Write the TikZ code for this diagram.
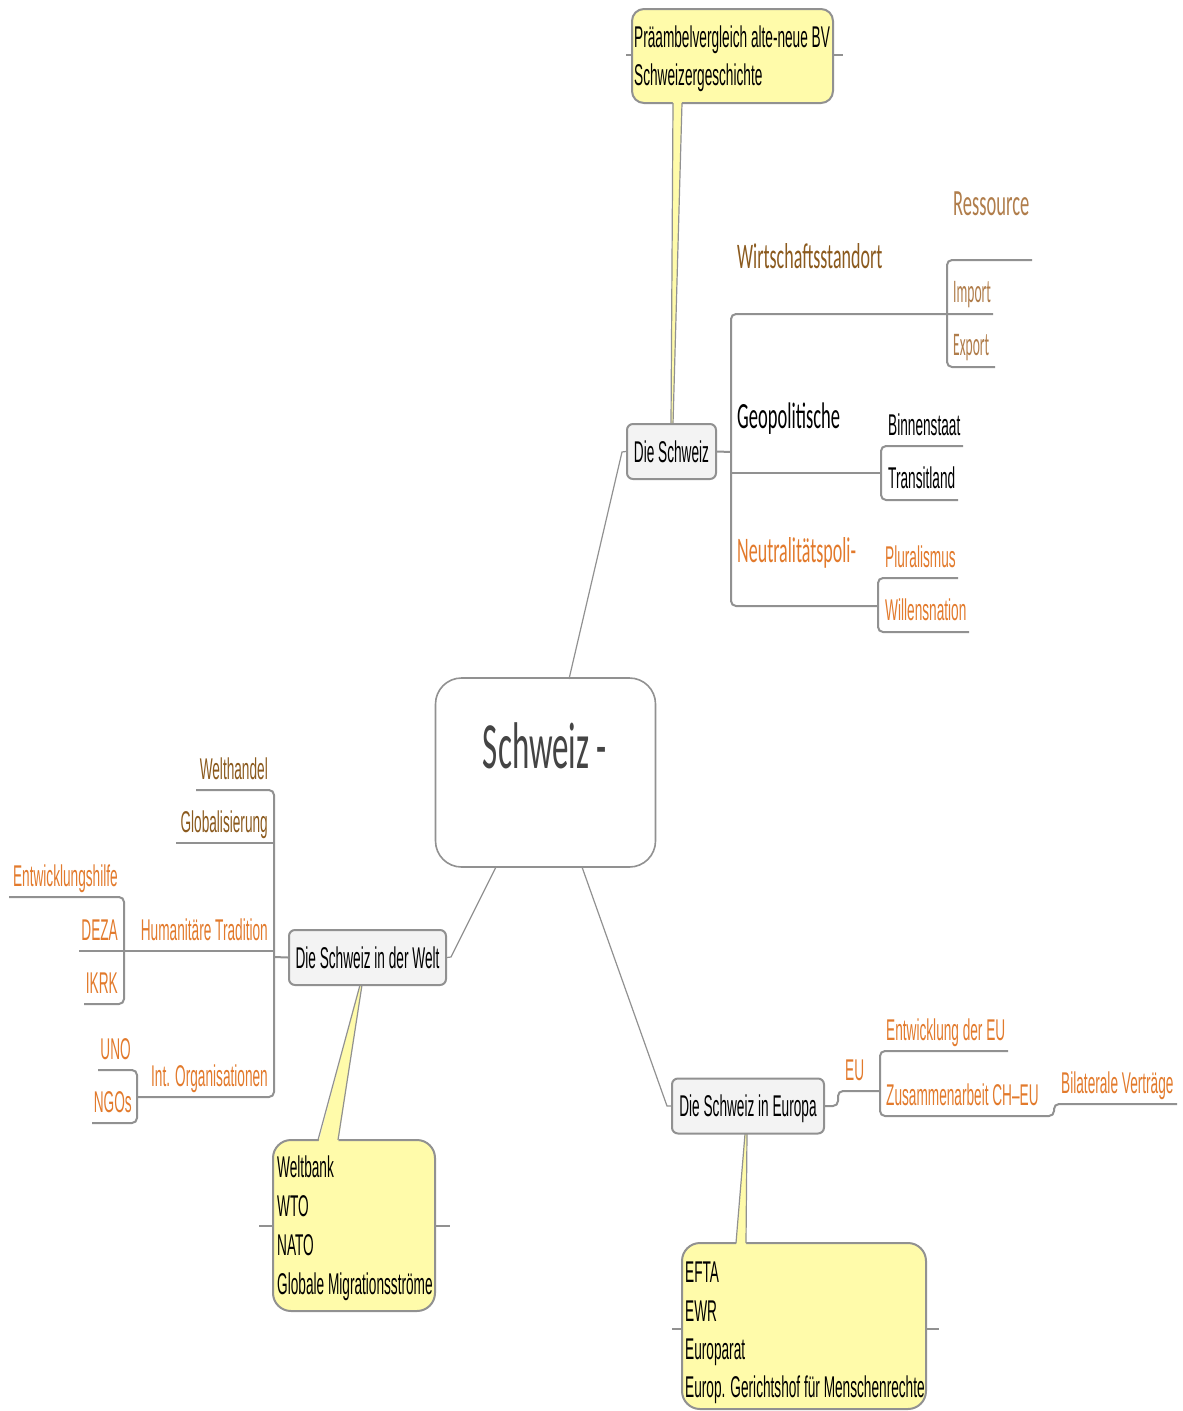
\documentclass[tikz,border=0pt]{standalone}
\usepackage{fontspec}
\setmainfont{Liberation Sans}
\newfontfamily\af[FakeStretch=0.455]{Liberation Sans}
\newfontfamily\cf[FakeStretch=0.5]{Carlito}
\newfontfamily\cfn[FakeStretch=0.41]{Carlito}
\definecolor{orng}{RGB}{226,122,44}
\definecolor{brnA}{RGB}{139,90,30}
\definecolor{brnB}{RGB}{176,125,75}
\definecolor{lgray}{RGB}{145,145,145}
\definecolor{cgray}{RGB}{68,68,68}
\definecolor{yel}{RGB}{255,251,170}
\definecolor{topicfill}{RGB}{243,243,243}
\tikzset{
  br/.style={draw=lgray, line width=2pt, rounded corners=5pt},
  conn/.style={draw=lgray, line width=1.2pt},
  lbl/.style={inner sep=0pt, font=\af\fontsize{30}{36}\selectfont},
  big/.style={inner sep=0pt, font=\cf\fontsize{37}{44}\selectfont},
  sml/.style={inner sep=0pt, font=\cfn\fontsize{33}{38}\selectfont},
  topic/.style={draw=lgray, line width=2pt, fill=topicfill, rounded corners=6pt,
    inner sep=0pt, text height=21pt, text depth=0pt, font=\af\fontsize{30}{36}\selectfont},
  callout/.style={draw=lgray, line width=2pt, fill=yel, inner sep=0pt},
  wedge/.style={fill=yel, draw=none},
  wedgeline/.style={draw=lgray, line width=1.2pt},
}
\begin{document}
\begin{tikzpicture}[x=1pt,y=-1pt]
\useasboundingbox (0,0) rectangle (1183,1411);

% ---------- callout boxes ----------
\draw[br] (626,55) -- (843,55);
\node[callout, rounded corners=12pt, minimum width=201pt, minimum height=94pt] (pb) at (732.5,56) {};
\draw[br] (259,1226) -- (450,1226);
\node[callout, rounded corners=18pt, minimum width=162pt, minimum height=171pt] (wb) at (354,1225.5) {};
\draw[br] (672,1329) -- (939,1329);
\node[callout, rounded corners=18pt, minimum width=244pt, minimum height=166pt] (ef) at (804,1326) {};

% ---------- wedges ----------
\fill[wedge] (671,424) -- (673,99) -- (682,99) -- (673,424) -- cycle;
\draw[wedgeline] (671,424) -- (673,103);
\draw[wedgeline] (673,424) -- (682,103);
\fill[wedge] (360,985) -- (318,1144) -- (338,1144) -- (362,985) -- cycle;
\draw[wedgeline] (360,985) -- (318,1140);
\draw[wedgeline] (362,985) -- (338,1140);
\fill[wedge] (745,1134) -- (736,1247) -- (746,1247) -- (747,1134) -- cycle;
\draw[wedgeline] (745,1134) -- (736,1243);
\draw[wedgeline] (747,1134) -- (746,1243);

% ---------- callout texts ----------
\node[lbl, anchor=base west] (pb1) at (634,47) {Präambelvergleich alte-neue BV};
\node[lbl, anchor=base west] (pb2) at (634,85) {Schweizergeschichte};
\node[lbl, anchor=base west] (wb1) at (277,1177) {Weltbank};
\node[lbl, anchor=base west] (wb2) at (277,1216) {WTO};
\node[lbl, anchor=base west] (wb3) at (277,1255) {NATO};
\node[lbl, anchor=base west] (wb4) at (277,1294) {Globale Migrationsströme};
\node[lbl, anchor=base west] (ef1) at (685,1282) {EFTA};
\node[lbl, anchor=base west] (ef2) at (685,1321) {EWR};
\node[lbl, anchor=base west] (ef3) at (685,1359) {Europarat};
\node[lbl, anchor=base west] (ef4) at (685,1397) {Europ. Gerichtshof für Menschenrechte};

% ---------- central ----------
\node[draw=lgray, line width=1.6pt, fill=white, rounded corners=26pt, minimum width=220pt, minimum height=189pt, inner sep=0pt] (c) at (545.5,772.5) {};
\node[inner sep=0pt, anchor=base, text=cgray, font=\cf\fontsize{66}{70}\selectfont] (ct) at (545,768) {Schweiz -};

% ---------- topic boxes ----------
\node[topic, minimum width=89pt, minimum height=55pt] (ds) at (671.5,451.5) {Die Schweiz};
\node[topic, minimum width=157pt, minimum height=55pt] (dw) at (367.5,957.5) {Die Schweiz in der Welt};
\node[topic, minimum width=152pt, minimum height=55pt] (de) at (748,1106) {Die Schweiz in Europa};

% ---------- central connectors ----------
\draw[conn] (569,679) -- (622,452) -- (ds.west);
\draw[conn] (496,867) -- (451,957) -- (dw.east);
\draw[conn] (582,867) -- (667,1106) -- (de.west);

% ---------- Die Schweiz branches ----------
\draw[br] (ds.east) -- (731,452);
\draw[br] (993,314) -- (731,314) -- (731,606) -- (878,606);
\draw[br] (731,473) -- (881,473);
\draw[br] (1032,260) -- (947,260) -- (947,367) -- (995,367);
\draw[br] (963,446) -- (881,446) -- (881,500) -- (958,500);
\draw[br] (958,578) -- (878,578) -- (878,632) -- (969,632);

\node[big, anchor=base west, text=brnB] (res) at (953,215) {Ressource};
\node[big, anchor=base west, text=brnA, font=\cf\fontsize{36}{44}\selectfont] (ws) at (737,268) {Wirtschaftsstandort};
\node[sml, anchor=base west, text=brnB] (imp) at (953,302) {Import};
\node[sml, anchor=base west, text=brnB] (exp) at (953,355) {Export};
\node[big, anchor=base west] (geo) at (737,428) {Geopolitische};
\node[lbl, anchor=base west] (bin) at (888,435) {Binnenstaat};
\node[lbl, anchor=base west] (tra) at (888,488) {Transitland};
\node[big, anchor=base west, text=orng, font=\cf\fontsize{36}{44}\selectfont] (neu) at (737,562) {Neutralitätspoli-};
\node[lbl, anchor=base west, text=orng] (plu) at (885,567) {Pluralismus};
\node[lbl, anchor=base west, text=orng] (wil) at (885,620) {Willensnation};

% ---------- Welt branches ----------
\draw[br] (dw.west) -- (274,957);
\draw[br] (196,790) -- (274,790) -- (274,1097) -- (137,1097);
\draw[br] (176,843) -- (274,843);
\draw[br] (124,951) -- (274,951);
\draw[br] (9,897) -- (124,897) -- (124,1004) -- (84,1004);
\draw[br] (79,951) -- (124,951);
\draw[br] (98,1070) -- (137,1070) -- (137,1123) -- (92,1123);

\node[lbl, anchor=base east, text=brnA] (wh) at (268,779) {Welthandel};
\node[lbl, anchor=base east, text=brnA] (gl) at (268,832) {Globalisierung};
\node[lbl, anchor=base east, text=orng] (hum) at (268,940) {Humanitäre Tradition};
\node[lbl, anchor=base east, text=orng] (ent) at (118,886) {Entwicklungshilfe};
\node[lbl, anchor=base east, text=orng] (dez) at (118,940) {DEZA};
\node[lbl, anchor=base east, text=orng] (ikr) at (118,993) {IKRK};
\node[lbl, anchor=base east, text=orng] (int) at (268,1086) {Int. Organisationen};
\node[lbl, anchor=base east, text=orng] (uno) at (131,1059) {UNO};
\node[lbl, anchor=base east, text=orng] (ngo) at (132,1112) {NGOs};

% ---------- Europa branches ----------
\draw[br] (de.east) -- (838,1106) -- (838,1091) -- (880,1091);
\draw[br] (1008,1051) -- (880,1051) -- (880,1116) -- (1054,1116) -- (1054,1104) -- (1177,1104);

\node[lbl, anchor=base west, text=orng] (eu) at (845,1080) {EU};
\node[lbl, anchor=base west, text=orng] (eeu) at (886,1040) {Entwicklung der EU};
\node[lbl, anchor=base west, text=orng] (zus) at (886,1105) {Zusammenarbeit CH–EU};
\node[lbl, anchor=base west, text=orng] (bil) at (1061,1093) {Bilaterale Verträge};
\end{tikzpicture}
\end{document}
